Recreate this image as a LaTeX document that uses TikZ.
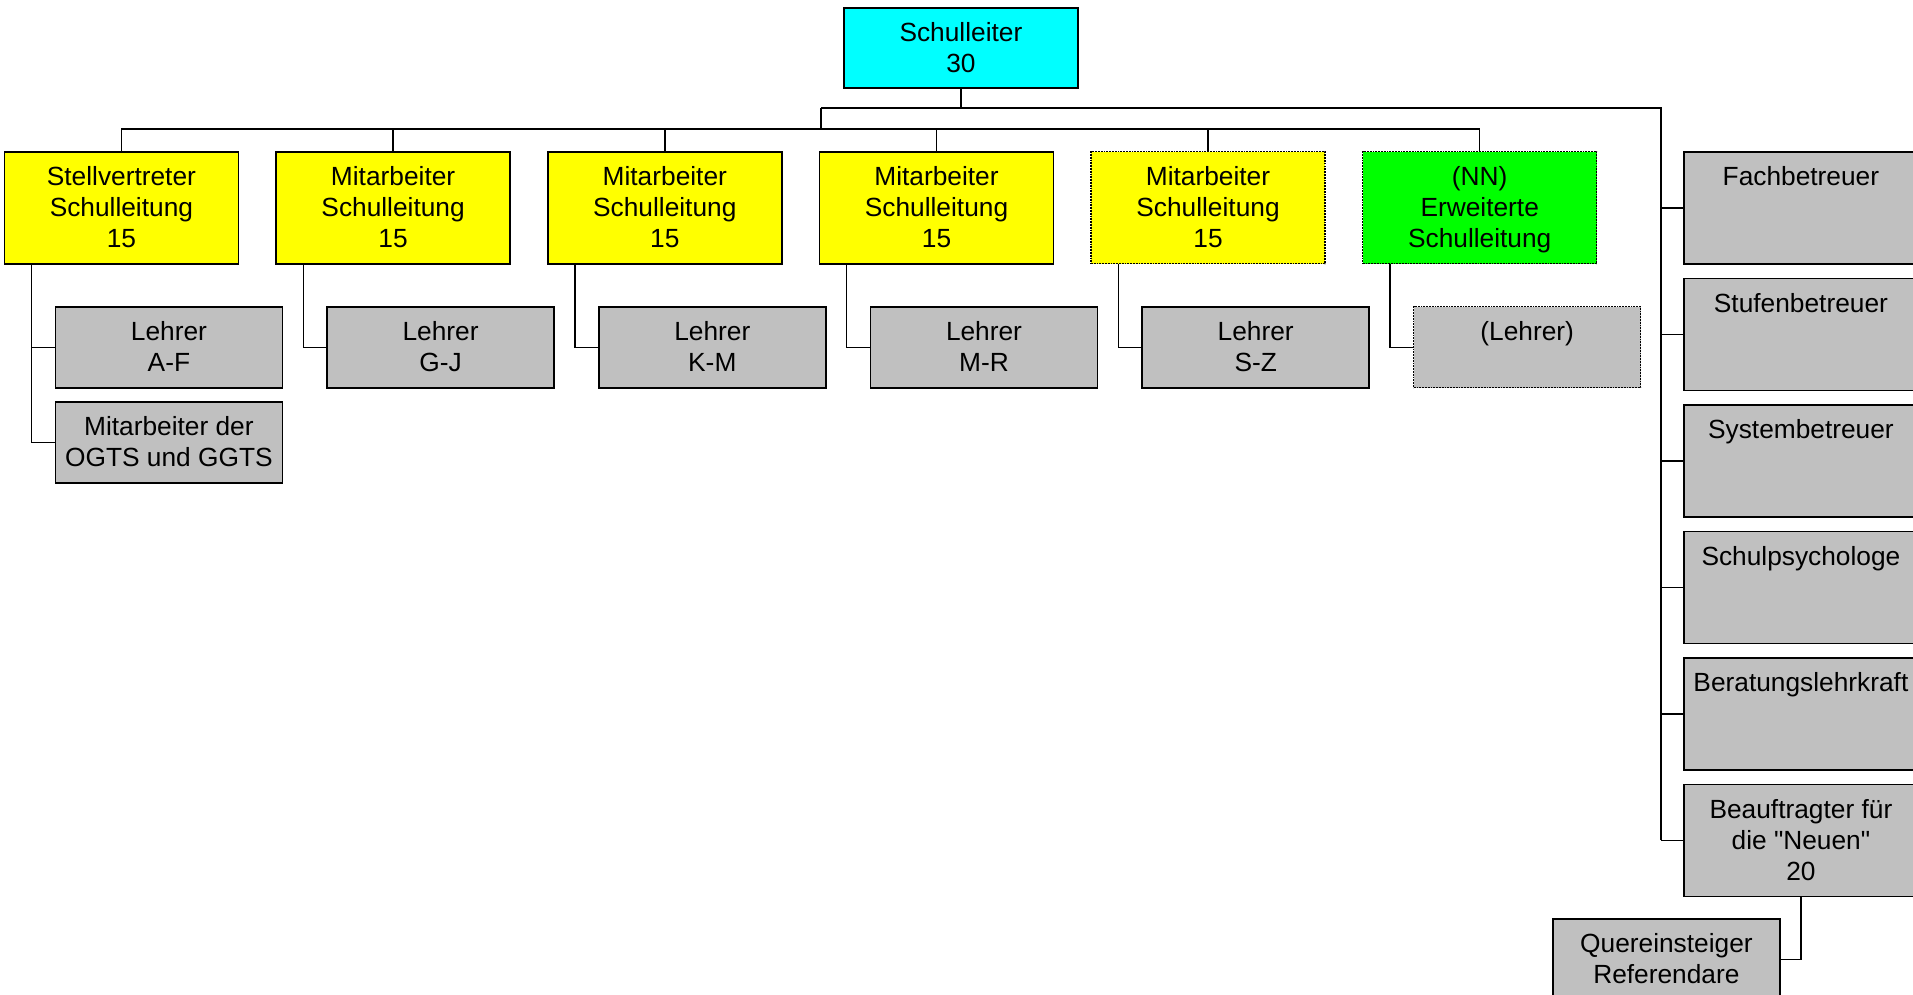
\documentclass[tikz,border=0pt]{standalone}
\usepackage{fontspec}
\setmainfont{Liberation Sans}
\usepackage{tikz}

\definecolor{leitcyan}{RGB}{0,255,255}
\definecolor{slyellow}{RGB}{255,255,0}
\definecolor{eslgreen}{RGB}{0,255,0}
\definecolor{boxgray}{RGB}{192,192,192}

\begin{document}
\begin{tikzpicture}[
		x=1pt, y=-1pt,
		every node/.style={rectangle, draw, line width=1.8pt, inner sep=0pt, anchor=north west, font=\fontsize{26.3}{31}\selectfont},
		sized/.style 2 args={execute at begin node={\begin{minipage}[t][#2][t]{#1}\centering\rule{0pt}{34pt}}, execute at end node={\end{minipage}}},
		topbox/.style={sized={234pt}{80pt}},
		bigbox/.style={sized={234pt}{112pt}},
		smallbox/.style={sized={227pt}{81pt}},
		dotbox/.style={densely dotted, line width=1.4pt},
		conn/.style={line width=1.4pt}
	]
  \useasboundingbox (0, 0) rectangle (1913, 995);
  \node (leiter) [topbox, fill=leitcyan] at (843, 7) {Schulleiter\\30};
  % Schulleitung
  \node (svl) [bigbox, fill=slyellow] at (3.5, 151) {Stellvertreter\\Schulleitung\\15};
  \node (msl_1) [bigbox, fill=slyellow] at (275.2, 151) {Mitarbeiter\\Schulleitung\\15};
  \node (msl_2) [bigbox, fill=slyellow] at (546.9, 151) {Mitarbeiter\\Schulleitung\\15};
  \node (msl_3) [bigbox, fill=slyellow] at (818.6, 151) {Mitarbeiter\\Schulleitung\\15};
  \node (msl_4) [bigbox, dotbox, fill=slyellow] at (1090.3, 151) {Mitarbeiter\\Schulleitung\\15};
  \node (esl) [bigbox, dotbox, fill=eslgreen] at (1362, 151) {(NN)\\Erweiterte\\Schulleitung};
  % Lehrer
  \node (l_af) [smallbox, fill=boxgray] at (54.5, 306) {Lehrer\\A-F};
  \node (ogts) [smallbox, fill=boxgray] at (54.5, 401) {Mitarbeiter der\\OGTS und GGTS};
  \node (l_gj) [smallbox, fill=boxgray] at (326.2, 306) {Lehrer\\G-J};
  \node (l_km) [smallbox, fill=boxgray] at (597.9, 306) {Lehrer\\K-M};
  \node (l_mr) [smallbox, fill=boxgray] at (869.6, 306) {Lehrer\\M-R};
  \node (l_sz) [smallbox, fill=boxgray] at (1141.3, 306) {Lehrer\\S-Z};
  \node (l_nn) [smallbox, dotbox, fill=boxgray] at (1413, 306) {(Lehrer)};
  % Stab
  \node (fach) [bigbox, fill=boxgray] at (1683, 151) {Fachbetreuer};
  \node (stufen) [bigbox, fill=boxgray] at (1683, 277.5) {Stufenbetreuer};
  \node (system) [bigbox, fill=boxgray] at (1683, 404) {Systembetreuer};
  \node (psych) [bigbox, fill=boxgray] at (1683, 530.5) {Schulpsychologe};
  \node (berat) [bigbox, fill=boxgray] at (1683, 657) {Beratungslehrkraft};
  \node (neue) [bigbox, fill=boxgray] at (1683, 783.5) {Beauftragter für\\die \textquotedbl Neuen\textquotedbl\\20};
  \node (quer) [smallbox, fill=boxgray] at (1552, 918) {Quereinsteiger\\Referendare};
  \coordinate (bus) at (821, 108);
  \coordinate (bus_r) at (1661, 108);
  \coordinate (bus_sl) at (821, 129);
  \draw [conn] (leiter.south) -- (leiter.south |- bus);
  \draw [conn] (bus) -- (bus_r) -- (bus_r |- neue.west);
  \draw [conn] (bus) -- (bus_sl);
  \draw [conn] (svl.north |- bus_sl) -- (esl.north |- bus_sl);
  \draw [conn] (svl.north) -- (svl.north |- bus_sl);
  \draw [conn] (msl_1.north) -- (msl_1.north |- bus_sl);
  \draw [conn] (msl_2.north) -- (msl_2.north |- bus_sl);
  \draw [conn] (msl_3.north) -- (msl_3.north |- bus_sl);
  \draw [conn] (msl_4.north) -- (msl_4.north |- bus_sl);
  \draw [conn] (esl.north) -- (esl.north |- bus_sl);
  \draw [conn] ([xshift=28pt]svl.south west) |- (ogts.west);
  \draw [conn] ([xshift=28pt]svl.south west |- l_af.west) -- (l_af.west);
  \draw [conn] ([xshift=28pt]msl_1.south west) |- (l_gj.west);
  \draw [conn] ([xshift=28pt]msl_2.south west) |- (l_km.west);
  \draw [conn] ([xshift=28pt]msl_3.south west) |- (l_mr.west);
  \draw [conn] ([xshift=28pt]msl_4.south west) |- (l_sz.west);
  \draw [conn] ([xshift=28pt]esl.south west) |- (l_nn.west);
  \draw [conn] (bus_r |- fach.west) -- (fach.west);
  \draw [conn] (bus_r |- stufen.west) -- (stufen.west);
  \draw [conn] (bus_r |- system.west) -- (system.west);
  \draw [conn] (bus_r |- psych.west) -- (psych.west);
  \draw [conn] (bus_r |- berat.west) -- (berat.west);
  \draw [conn] (bus_r |- neue.west) -- (neue.west);
  \draw [conn] (neue.south) |- (quer.east);
\end{tikzpicture}
\end{document}
